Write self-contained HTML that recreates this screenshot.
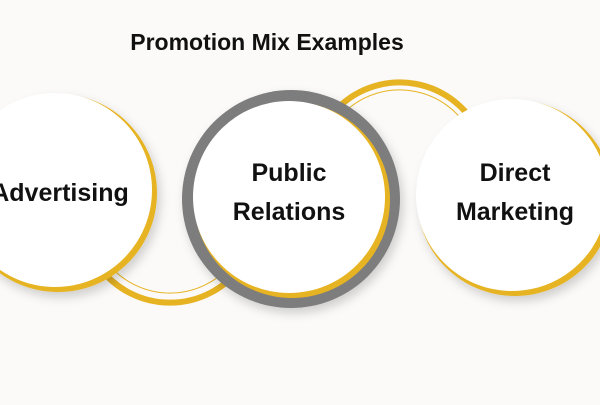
<!DOCTYPE html>
<html><head><style>
body{margin:0;width:600px;height:400px;background:#fbfaf8;overflow:hidden;font-family:"Liberation Sans",sans-serif}
</style></head><body>
<svg width="600" height="400" viewBox="0 0 600 400">
<defs>
<filter id="sh" x="-30%" y="-30%" width="160%" height="160%"><feDropShadow dx="3" dy="5" stdDeviation="5" flood-color="#000" flood-opacity="0.18"/></filter>
</defs>
<text x="267" y="50" font-size="23" font-weight="bold" fill="#111" text-anchor="middle" font-family="Liberation Sans, sans-serif">Promotion Mix Examples</text>
<!-- back ring arcs -->
<path d="M 341 105 A 88 88 0 0 1 478 130" fill="none" stroke="#e6b322" stroke-width="6"/>
<path d="M 349 108 A 80 80 0 0 1 469 130" fill="none" stroke="#e6b322" stroke-width="1"/>
<path d="M 100 268 A 88 88 0 0 0 240 268" fill="none" stroke="#e6b322" stroke-width="6"/>
<path d="M 110 266 A 80 80 0 0 0 230 266" fill="none" stroke="#e6b322" stroke-width="1"/>
<!-- left -->
<circle cx="58" cy="193" r="99" fill="#e6b322" filter="url(#sh)"/>
<circle cx="55" cy="190" r="97" fill="#fff"/>
<!-- middle -->
<circle cx="291" cy="199" r="109" fill="#7d7d7d" filter="url(#sh)"/>
<circle cx="292" cy="200" r="98" fill="#e6b322"/>
<circle cx="289" cy="197" r="96" fill="#fff"/>
<!-- right -->
<circle cx="515" cy="198" r="98" fill="#e6b322" filter="url(#sh)"/>
<circle cx="512" cy="195" r="96" fill="#fff"/>
<g font-size="25" font-weight="bold" fill="#111" text-anchor="middle" font-family="Liberation Sans, sans-serif">
<text x="60" y="201">Advertising</text>
<text x="289" y="181">Public</text>
<text x="289" y="220">Relations</text>
<text x="515" y="181">Direct</text>
<text x="515" y="220">Marketing</text>
</g>
</svg>
</body></html>
